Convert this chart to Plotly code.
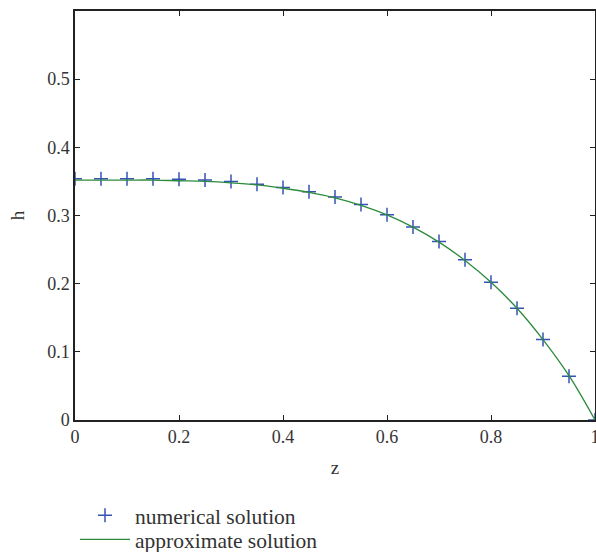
import plotly.graph_objects as go

z = [0.0, 0.05, 0.1, 0.15, 0.2, 0.25, 0.3, 0.35, 0.4, 0.45, 0.5,
     0.55, 0.6, 0.65, 0.7, 0.75, 0.8, 0.85, 0.9, 0.95, 1.0]
h_numerical = [0.354, 0.354, 0.354, 0.354, 0.353, 0.352, 0.350, 0.346, 0.341,
               0.335, 0.327, 0.316, 0.301, 0.283, 0.262, 0.235, 0.202, 0.164,
               0.118, 0.064, 0.0]
h_approx = [0.352, 0.352, 0.352, 0.352, 0.351, 0.350, 0.348, 0.345, 0.340,
            0.334, 0.326, 0.315, 0.301, 0.283, 0.261, 0.234, 0.202, 0.164,
            0.118, 0.065, 0.0]

xticks = [0, 0.2, 0.4, 0.6, 0.8, 1]
xticklabels = ["0", "0.2", "0.4", "0.6", "0.8", "1"]
yticks = [0, 0.1, 0.2, 0.3, 0.4, 0.5]
yticklabels = ["0", "0.1", "0.2", "0.3", "0.4", "0.5"]

FONT = "Liberation Serif"
TXT = "#333333"

fig = go.Figure()
fig.add_trace(go.Scatter(
    x=z, y=h_numerical, mode="markers", name="numerical solution",
    marker=dict(symbol="cross-thin", size=10, line=dict(color="#3553b5", width=1.5)),
    legend="legend",
))
fig.add_trace(go.Scatter(
    x=z, y=h_approx, mode="lines", name="approximate solution",
    line=dict(color="#2b8a3c", width=1.3, shape="spline"),
    legend="legend2",
))

axis_common = dict(
    showgrid=False, zeroline=False, showline=True, linecolor="#222222",
    linewidth=1.5, mirror="ticks", ticks="inside", ticklen=5, tickwidth=1,
    tickcolor="#222222", tickfont=dict(family=FONT, size=18, color=TXT),
    ticklabeloverflow="allow",
)
fig.update_xaxes(range=[0, 1], tickvals=xticks, ticktext=xticklabels,
                 title=dict(text="z", font=dict(family=FONT, size=19, color=TXT), standoff=14),
                 **axis_common)
fig.update_yaxes(range=[0, 0.6], tickvals=yticks, ticktext=yticklabels,
                 title=dict(text="h", font=dict(family=FONT, size=19, color=TXT), standoff=18),
                 **axis_common)

legend_common = dict(x=0.0, xanchor="left", yanchor="top",
                     bgcolor="rgba(0,0,0,0)",
                     font=dict(family=FONT, size=21.5, color=TXT),
                     itemwidth=50)

fig.update_layout(
    width=596, height=552,
    margin=dict(l=75, r=1, t=11, b=132, autoexpand=False),
    paper_bgcolor="white", plot_bgcolor="white",
    font=dict(family=FONT, size=17, color=TXT),
    showlegend=True,
    legend=dict(y=-0.183, **legend_common),
    legend2=dict(y=-0.242, **legend_common),
)

fig.write_html(
    "out.html",
    config={"displayModeBar": False},
    post_script="document.body.style.margin='0';document.body.style.overflow='hidden';",
)
